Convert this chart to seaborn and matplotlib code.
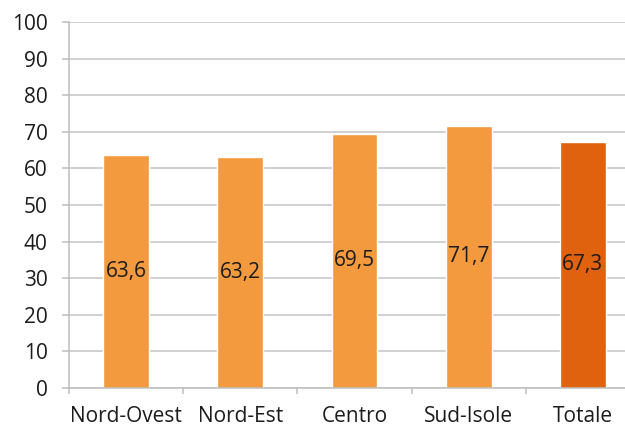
import matplotlib
matplotlib.use("Agg")
import matplotlib.pyplot as plt
import seaborn as sns
import pandas as pd
import numpy as np

categories = ["Nord-Ovest", "Nord-Est", "Centro", "Sud-Isole", "Totale"]
values = [63.6, 63.2, 69.5, 71.7, 67.3]
value_labels = ["63,6", "63,2", "69,5", "71,7", "67,3"]
y_ticks = [0, 10, 20, 30, 40, 50, 60, 70, 80, 90, 100]

light = "#F3993E"
dark = "#E0620F"
colors = [light, light, light, light, dark]
text_color = "#1C1C1C"
fs = 15

sns.set_theme(style="white")
plt.rcParams["font.family"] = ["Open Sans", "DejaVu Sans"]

df = pd.DataFrame({"cat": categories, "val": values})

fig = plt.figure(figsize=(6.25, 4.28), dpi=100)
W, H = 625, 428
left, right, top, bottom = 69, 640, 22, 388
ax = fig.add_axes([left / W, 1 - bottom / H, (right - left) / W, (bottom - top) / H])

sns.barplot(data=df, x="cat", y="val", hue="cat", palette=colors, legend=False,
            width=0.4, ax=ax, saturation=1)

ax.set_ylim(0, 100)
ax.set_xlim(-0.5, 4.5)
ax.set_yticks(y_ticks)
ax.set_yticklabels([str(t) for t in y_ticks], fontsize=fs, color=text_color)
ax.yaxis.grid(True, color="#C4C4C4", linewidth=1.1)
ax.set_axisbelow(True)
ax.set_xlabel("")
ax.set_ylabel("")

for s in ["top", "right"]:
    ax.spines[s].set_visible(False)
for s in ["left", "bottom"]:
    ax.spines[s].set_color("#BDBDBD")
    ax.spines[s].set_linewidth(1.1)

ax.tick_params(axis="y", which="major", length=5, width=1.1, color="#BDBDBD",
               direction="out", pad=10.5, left=True)
ax.set_xticks(range(len(categories)))
ax.set_xticklabels(categories, fontsize=fs, color=text_color)
ax.tick_params(axis="x", which="major", length=0, pad=13)
ax.set_xticks(np.arange(-0.5, len(categories), 1.0), minor=True)
ax.tick_params(axis="x", which="minor", length=4, width=1.1, color="#BDBDBD",
               direction="out", bottom=True)

for i, (v, lab) in enumerate(zip(values, value_labels)):
    ax.text(i, v / 2, lab, ha="center", va="center", fontsize=fs, color=text_color)

fig.savefig("out.png", dpi=100)
